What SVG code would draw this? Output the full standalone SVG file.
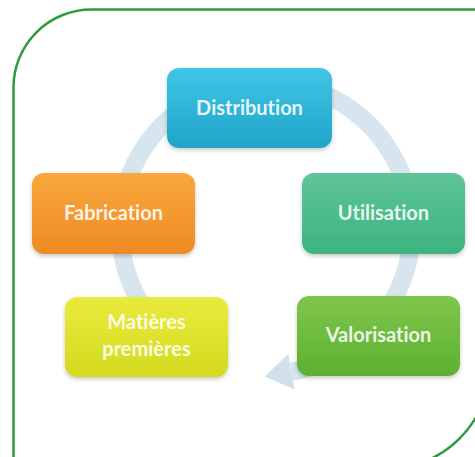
<svg xmlns="http://www.w3.org/2000/svg" width="475" height="457" viewBox="0 0 475 457">
  <defs>
    <style>
      .frame { fill: none; stroke: #2e9a3e; stroke-width: 2.5; }
      .ring { fill: none; stroke: #d7e5ee; stroke-width: 18; }
      .head { fill: #d0e1eb; }
      .box { filter: url(#shadow); }
      .label { font-family: Lato, "Open Sans", sans-serif; font-weight: bold; font-size: 20px; fill: #ffffff; fill-opacity: 0.88; text-anchor: middle; font-variant-ligatures: none; font-feature-settings: "liga" 0, "clig" 0; }
    </style>
    <filter id="shadow" x="-10%" y="-10%" width="120%" height="130%">
      <feDropShadow dx="0" dy="2" stdDeviation="2" flood-color="#000000" flood-opacity="0.22"/>
    </filter>
    <linearGradient id="gBlue" x1="0" y1="0" x2="0" y2="1">
      <stop offset="0" stop-color="#40c6e6"/>
      <stop offset="1" stop-color="#20a4c8"/>
    </linearGradient>
    <linearGradient id="gOrange" x1="0" y1="0" x2="0" y2="1">
      <stop offset="0" stop-color="#f9a83c"/>
      <stop offset="1" stop-color="#ee8a25"/>
    </linearGradient>
    <linearGradient id="gTeal" x1="0" y1="0" x2="0" y2="1">
      <stop offset="0" stop-color="#5fc598"/>
      <stop offset="1" stop-color="#3cb481"/>
    </linearGradient>
    <linearGradient id="gYellow" x1="0" y1="0" x2="0" y2="1">
      <stop offset="0" stop-color="#e9eb3c"/>
      <stop offset="1" stop-color="#d3da1f"/>
    </linearGradient>
    <linearGradient id="gGreen" x1="0" y1="0" x2="0" y2="1">
      <stop offset="0" stop-color="#80c54c"/>
      <stop offset="1" stop-color="#5cb132"/>
    </linearGradient>
  </defs>

  <rect width="475" height="457" fill="#ffffff"/>

  <path class="frame" d="M 13.5 460 V 88 A 78 78 0 0 1 91.5 9.5 H 490 V 365 A 104 104 0 0 1 385 469"/>

  <g id="connectors">
    <path class="ring" d="M 211.3 363.4 A 146 146 0 1 1 291.3 371.8"/>
    <polygon class="head" points="294.4,389.5 288.2,354.1 264.7,376.5"/>
  </g>

  <g id="distribution">
    <rect class="box" x="167" y="68" width="165" height="80" rx="12" fill="url(#gBlue)"/>
    <text class="label" x="249.5" y="115">Distribution</text>
  </g>

  <g id="fabrication">
    <rect class="box" x="32" y="173" width="163" height="81" rx="12" fill="url(#gOrange)"/>
    <text class="label" x="113.5" y="220">Fabrication</text>
  </g>

  <g id="utilisation">
    <rect class="box" x="302" y="173" width="163" height="81" rx="12" fill="url(#gTeal)"/>
    <text class="label" x="383.5" y="220">Utilisation</text>
  </g>

  <g id="matieres">
    <rect class="box" x="65" y="297" width="163" height="80" rx="12" fill="url(#gYellow)"/>
    <text class="label" x="146.5" y="329">Matières</text>
    <text class="label" x="146.5" y="356">premières</text>
  </g>

  <g id="valorisation">
    <rect class="box" x="297" y="296" width="163" height="80" rx="12" fill="url(#gGreen)"/>
    <text class="label" x="378.5" y="342">Valorisation</text>
  </g>
</svg>
